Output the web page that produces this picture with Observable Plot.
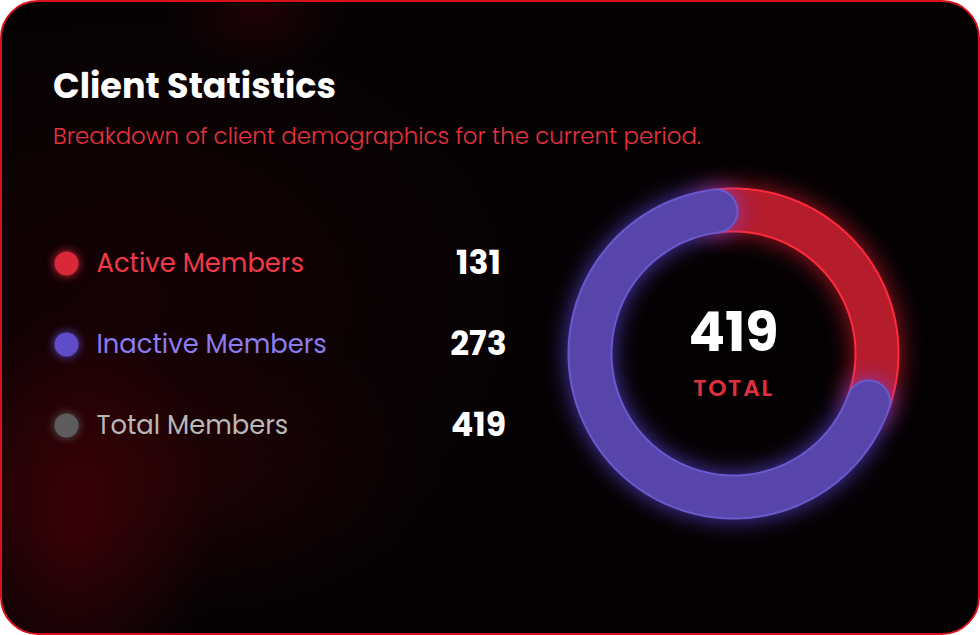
<!DOCTYPE html>
<html><head><meta charset="utf-8">
<script src="https://cdn.jsdelivr.net/npm/d3@7"></script>
<script src="https://cdn.jsdelivr.net/npm/@observablehq/plot@0.6"></script>
<style>
html,body{margin:0;padding:0;background:#fff;width:980px;height:635px;overflow:hidden}
.card{position:absolute;left:0;top:0;width:980px;height:635px;box-sizing:border-box;border:2px solid #d8121c;border-radius:38px;overflow:hidden;
 background:
  radial-gradient(ellipse 140px 220px at 70px 520px, rgba(110,0,10,0.42), rgba(0,0,0,0) 100%),
  radial-gradient(ellipse 260px 150px at 180px 470px, rgba(80,0,6,0.28), rgba(0,0,0,0) 100%),
  radial-gradient(ellipse 90px 60px at 255px 10px, rgba(70,0,6,0.4), rgba(0,0,0,0) 100%),
  radial-gradient(ellipse 420px 300px at 120px 300px, rgba(40,0,4,0.45), rgba(0,0,0,0) 100%),
  #050204;
 font-family: Poppins, Inter, "Open Sans", sans-serif;}
.title{position:absolute;left:51px;top:64px;font-size:35px;line-height:40px;font-weight:700;color:#fff;white-space:nowrap}
.sub{position:absolute;left:51px;top:119px;font-size:22.9px;line-height:30px;font-weight:300;color:#e8323f;white-space:nowrap}
#legend{position:absolute;left:40px;top:200px}
#donut{position:absolute;left:531px;top:151px}
#legend svg, #donut svg{overflow:visible}
.glowRed{filter:drop-shadow(0 0 12px rgba(255,30,50,0.65))}
.glowPurple{filter:drop-shadow(0 0 11px rgba(110,80,255,0.7))}
</style></head>
<body>
<div class="card">
  <div class="title">Client Statistics</div>
  <div class="sub">Breakdown of client demographics for the current period.</div>
  <div id="legend"></div>
  <div id="donut"></div>
</div>
<script>
// ---- data ----
const legendLabels = ["Active Members", "Inactive Members", "Total Members"];
const legendValues = [131, 273, 419];
const legendColors = ["#d9283a", "#5e4cc8", "#5c5c5c"];
const labelColors  = ["#f03a48", "#8b7cf0", "#b8b8b8"];

const segLabels = ["Active Members", "Inactive Members"];
const segValues = [131, 273];
const segColors = ["#b51c2c", "#5845aa"];
const segEdge   = ["#ff2b3c", "#6a58cc"];
const totalValue = 419;
const totalLabel = "TOTAL";
const startAngleDeg = -7;
const FONT = "Poppins, Inter, 'Open Sans', sans-serif";

// ---- legend ----
const legendRows = legendLabels.map((l, i) => ({label: l, value: legendValues[i], dot: legendColors[i], text: labelColors[i]}));
const legend = Plot.plot({
  width: 500, height: 260, margin: 0,
  style: {background: "transparent", overflow: "visible", fontFamily: FONT},
  y: {type: "point", domain: legendLabels, range: [61, 223], padding: 0, axis: null},
  marks: [
    Plot.dot(legendRows, {y: "label", frameAnchor: "left", dx: 24, r: 12, fill: "dot", stroke: "none"}),
    Plot.text(legendRows, {y: "label", text: "label", frameAnchor: "left", dx: 54, textAnchor: "start", lineAnchor: "middle", fill: "text", fontSize: 25.8, fontWeight: 400}),
    Plot.text(legendRows, {y: "label", text: d => String(d.value), frameAnchor: "left", dx: 436, textAnchor: "middle", lineAnchor: "middle", fill: "#ffffff", fontSize: 33, fontWeight: 700})
  ]
});
document.getElementById("legend").appendChild(legend);
d3.select(legend).selectAll("g[aria-label=dot] circle").each(function(d, i) {
  const c = legendColors[i];
  this.style.filter = `drop-shadow(0 0 5px ${c})`;
});

// ---- donut ----
const sum = d3.sum(segValues);
const R = 143.5;
const arcPts = [];
let acc = startAngleDeg;
segValues.forEach((v, i) => {
  const span = v / sum * 360;
  const a0 = acc, a1 = acc + span;
  const n = Math.ceil(span);
  for (let k = 0; k <= n; k++) {
    const a = (a0 + (a1 - a0) * k / n) * Math.PI / 180;
    arcPts.push({seg: segLabels[i], x: R * Math.sin(a), y: -R * Math.cos(a)});
  }
  acc = a1;
});
const ptsOf = s => arcPts.filter(p => p.seg === s);

const donut = Plot.plot({
  width: 400, height: 400, margin: 0,
  style: {background: "transparent", overflow: "visible", fontFamily: FONT},
  x: {domain: [-200, 200], range: [0, 400], axis: null},
  y: {domain: [-200, 200], range: [0, 400], axis: null},
  marks: [
    Plot.line(ptsOf(segLabels[0]), {x: "x", y: "y", stroke: segEdge[0], strokeWidth: 45, strokeLinecap: "round", className: "glowRed"}),
    Plot.line(ptsOf(segLabels[0]), {x: "x", y: "y", stroke: segColors[0], strokeWidth: 41, strokeLinecap: "round"}),
    Plot.line(ptsOf(segLabels[1]), {x: "x", y: "y", stroke: segEdge[1], strokeWidth: 45, strokeLinecap: "round", className: "glowPurple"}),
    Plot.line(ptsOf(segLabels[1]), {x: "x", y: "y", stroke: segColors[1], strokeWidth: 41, strokeLinecap: "round"}),
    Plot.text([totalValue], {x: () => 0, y: () => 0, text: d => String(d), dy: -20, fill: "#ffffff", fontSize: 54, fontWeight: 700, lineAnchor: "middle"}),
    Plot.text([totalLabel], {x: () => 0, y: () => 0, text: d => d, dy: 35, fill: "#e0303e", fontSize: 23, fontWeight: 600, lineAnchor: "middle"})
  ]
});
document.getElementById("donut").appendChild(donut);
d3.select(donut).selectAll("g[aria-label=text]").filter((d, i) => i === 1).style("letter-spacing", "1.8px");
</script>
</body></html>
